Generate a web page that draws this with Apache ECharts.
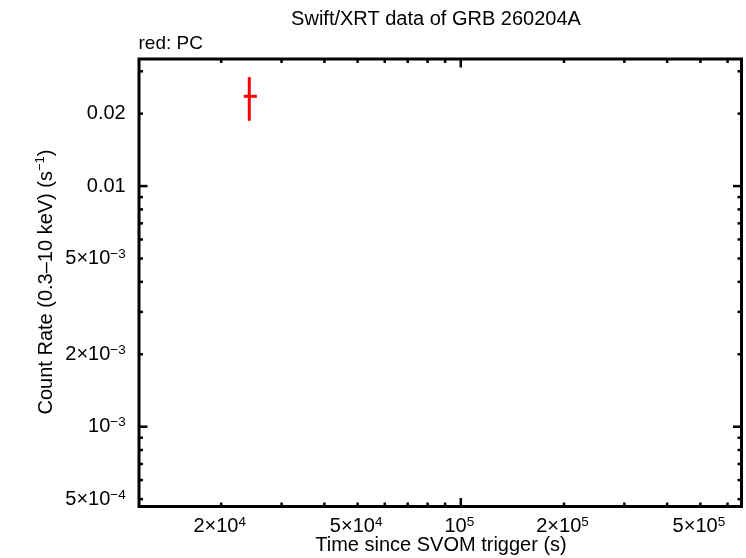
<!DOCTYPE html>
<html><head><meta charset="utf-8">
<script src="https://cdn.jsdelivr.net/npm/echarts@6/dist/echarts.min.js"></script>
<style>html,body{margin:0;padding:0;background:#fff}#c{width:746px;height:558px}</style>
</head><body><div id="c"></div>
<script>
// data
const timeMid = [24150];
const timeLo = [23270];
const timeHi = [25420];
const rateMid = [0.02361];
const rateLo = [0.01868];
const rateHi = [0.02838];

// axis ticks and labels
const xMajorTicks = [1e5];
const xMinorTicks = [2e4,3e4,4e4,5e4,6e4,7e4,8e4,9e4,2e5,3e5,4e5,5e5,6e5];
const xLabelValues = [2e4,5e4,1e5,2e5,5e5];
const xLabelTexts = ['2×10','5×10','10','2×10','5×10'];
const xLabelExps = ['4','4','5','5','5'];
const yMajorTicks = [1e-3,1e-2];
const yMinorTicks = [5e-4,6e-4,7e-4,8e-4,9e-4,2e-3,3e-3,4e-3,5e-3,6e-3,7e-3,8e-3,9e-3,2e-2,3e-2];
const yLabelValues = [0.02,0.01,5e-3,2e-3,1e-3,5e-4];
const yLabelTexts = ['0.02','0.01','5×10','2×10','10','5×10'];
const yLabelExps = ['','','−3','−3','−3','−4'];

const X_MIN = 11514, X_MAX = 6.59e5, Y_MIN = 4.66e-4, Y_MAX = 0.03374;
const FONT = '"Liberation Sans", Arial, Helvetica, sans-serif';
const RICH = {
  n: {fontSize: 20, fontFamily: FONT, lineHeight: 22, fill: '#000'},
  s: {fontSize: 13.5, fontFamily: FONT, lineHeight: 13, verticalAlign: 'top', fill: '#000'}
};
function labelText(t, e) { return '{n|' + t + '}' + (e ? '{s|' + e + '}' : ''); }

const chart = echarts.init(document.getElementById('c'), null, {renderer: 'canvas'});

const tickStyle = {stroke: '#000', lineWidth: 2.5};
const MAJ = 8.5, MIN = 4;

const xTickData = xMajorTicks.map(v => [v, Y_MIN, 1]).concat(xMinorTicks.map(v => [v, Y_MIN, 0]));
const yTickData = yMajorTicks.map(v => [X_MIN, v, 1]).concat(yMinorTicks.map(v => [X_MIN, v, 0]));

const option = {
  animation: false,
  backgroundColor: '#fff',
  grid: {left: 139, right: 4.5, top: 59, bottom: 51.5, show: true, borderColor: '#000', borderWidth: 3, backgroundColor: 'transparent'},
  xAxis: {type: 'log', logBase: 10, min: X_MIN, max: X_MAX,
    axisLine: {show: false}, axisTick: {show: false}, axisLabel: {show: false}, splitLine: {show: false}},
  yAxis: {type: 'log', logBase: 10, min: Y_MIN, max: Y_MAX,
    axisLine: {show: false}, axisTick: {show: false}, axisLabel: {show: false}, splitLine: {show: false}},
  graphic: [
    {type: 'text', x: 436, y: 19.7, style: {text: 'Swift/XRT data of GRB 260204A', fontSize: 20, fontFamily: FONT, fill: '#000', align: 'center', verticalAlign: 'middle'}},
    {type: 'text', x: 138.5, y: 43.3, style: {text: 'red: PC', fontSize: 19, fontFamily: FONT, fill: '#000', align: 'left', verticalAlign: 'middle'}},
    {type: 'text', x: 441, y: 545, style: {text: 'Time since SVOM trigger (s)', fontSize: 20, fontFamily: FONT, fill: '#000', align: 'center', verticalAlign: 'middle'}},
    {type: 'text', x: 46, y: 282, rotation: Math.PI / 2, style: {
      text: '{n|Count Rate (0.3–10 keV) (s}{s|−1}{n|)}', align: 'center', verticalAlign: 'middle',
      rich: {n: {fontSize: 20, fontFamily: FONT, lineHeight: 24, fill: '#000'}, s: {fontSize: 13, fontFamily: FONT, lineHeight: 13, verticalAlign: 'top', fill: '#000'}}}}
  ],
  series: [
    {type: 'custom', coordinateSystem: 'cartesian2d', data: xTickData, silent: true, clip: false,
      renderItem: function (params, api) {
        const v = api.value(0); const len = api.value(2) ? MAJ : MIN;
        const b = api.coord([v, Y_MIN]); const t = api.coord([v, Y_MAX]);
        return {type: 'group', children: [
          {type: 'line', shape: {x1: b[0], y1: b[1], x2: b[0], y2: b[1] - len}, style: tickStyle},
          {type: 'line', shape: {x1: t[0], y1: t[1], x2: t[0], y2: t[1] + len}, style: tickStyle}
        ]};
      }},
    {type: 'custom', coordinateSystem: 'cartesian2d', data: yTickData, silent: true, clip: false,
      renderItem: function (params, api) {
        const v = api.value(1); const len = api.value(2) ? MAJ : MIN;
        const l = api.coord([X_MIN, v]); const r = api.coord([X_MAX, v]);
        return {type: 'group', children: [
          {type: 'line', shape: {x1: l[0], y1: l[1], x2: l[0] + len, y2: l[1]}, style: tickStyle},
          {type: 'line', shape: {x1: r[0], y1: r[1], x2: r[0] - len, y2: r[1]}, style: tickStyle}
        ]};
      }},
    {type: 'custom', coordinateSystem: 'cartesian2d', data: xLabelValues.map(v => [v, Y_MIN]), silent: true, clip: false,
      renderItem: function (params, api) {
        const p = api.coord([api.value(0), Y_MIN]);
        const i = params.dataIndex;
        return {type: 'text', x: p[0] - 1.5, y: p[1] + 8.5, style: {text: labelText(xLabelTexts[i], xLabelExps[i]), rich: RICH, align: 'center', verticalAlign: 'top'}};
      }},
    {type: 'custom', coordinateSystem: 'cartesian2d', data: yLabelValues.map(v => [X_MIN, v]), silent: true, clip: false,
      renderItem: function (params, api) {
        const p = api.coord([X_MIN, api.value(1)]);
        const i = params.dataIndex;
        return {type: 'text', x: p[0] - 13.3, y: p[1], style: {text: labelText(yLabelTexts[i], yLabelExps[i]), rich: RICH, align: 'right', verticalAlign: 'middle'}};
      }},
    {type: 'custom', coordinateSystem: 'cartesian2d', silent: true, clip: false,
      data: timeMid.map((t, i) => [t, rateMid[i], timeLo[i], timeHi[i], rateLo[i], rateHi[i]]),
      renderItem: function (params, api) {
        const c = api.coord([api.value(0), api.value(1)]);
        const xl = api.coord([api.value(2), api.value(1)]);
        const xh = api.coord([api.value(3), api.value(1)]);
        const yl = api.coord([api.value(0), api.value(4)]);
        const yh = api.coord([api.value(0), api.value(5)]);
        const st = {stroke: '#ff0000', lineWidth: 3};
        return {type: 'group', children: [
          {type: 'line', shape: {x1: xl[0], y1: c[1], x2: xh[0], y2: c[1]}, style: st},
          {type: 'line', shape: {x1: c[0], y1: yl[1], x2: c[0], y2: yh[1]}, style: st}
        ]};
      }}
  ]
};
chart.setOption(option);
</script>
</body></html>
